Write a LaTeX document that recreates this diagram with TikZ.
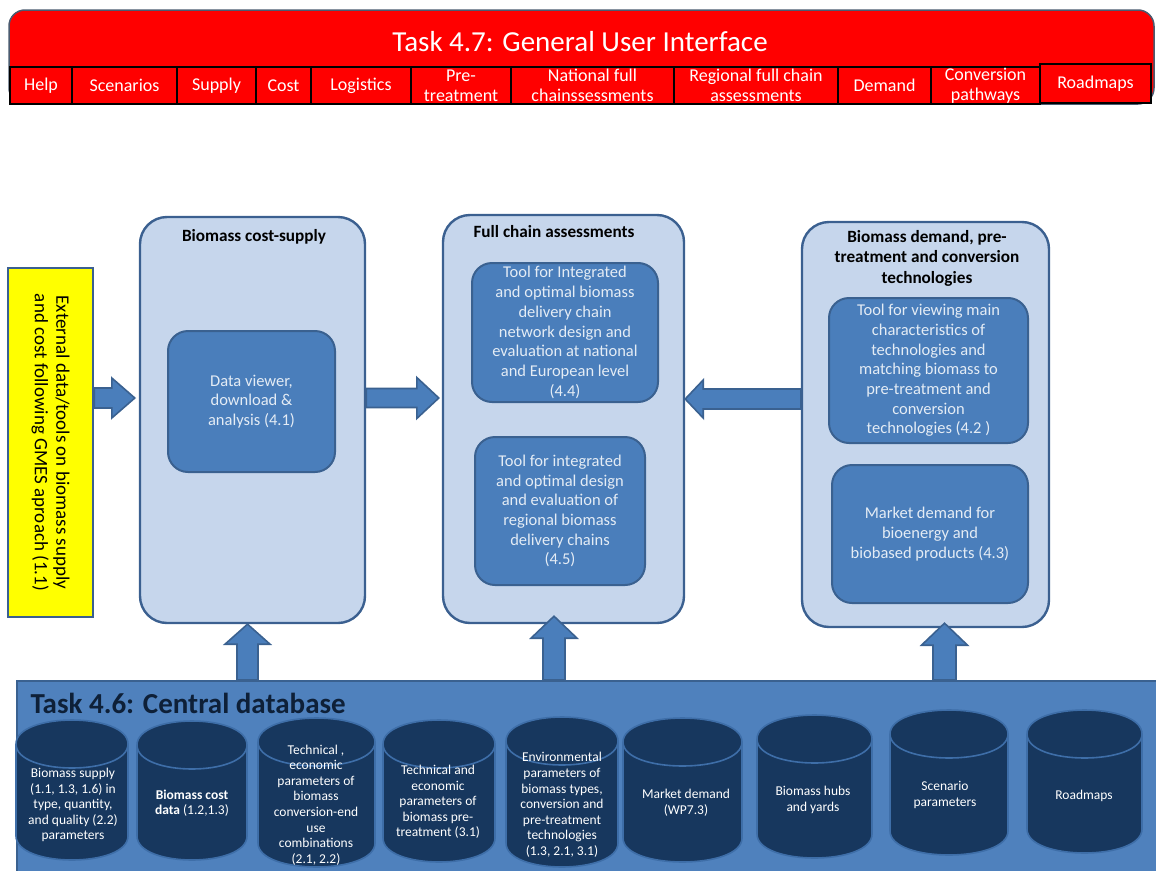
\documentclass[tikz,border=0pt]{standalone}
\usepackage{fontspec}
\setmainfont{Carlito}
\usetikzlibrary{calc}
\definecolor{panelc}{HTML}{C6D6EC}
\definecolor{bordc}{HTML}{3B6090}
\definecolor{innerc}{HTML}{4A7EBB}
\definecolor{innerb}{HTML}{3A6190}
\definecolor{innert}{HTML}{E4ECF5}
\definecolor{dbc}{HTML}{4F81BD}
\definecolor{dbtitle}{HTML}{0E2038}
\definecolor{cylc}{HTML}{17375E}
\definecolor{cylb}{HTML}{3E6EA8}
\definecolor{redc}{HTML}{FF0000}
\definecolor{barb}{HTML}{4B5B70}
\definecolor{yel}{HTML}{FFFF00}
\newcommand\fsz[2]{\fontsize{#1}{#2}\selectfont}
% box node from corners: style, name, x1, y1, x2, y2, text
\newcommand\cbox[7]{\node[#1, minimum width=#5-#3, minimum height=#6-#4] (#2)
  at ({(#3+#5)/2},{(#4+#6)/2}) {#7};}
% right-pointing block arrow: start, tip, shaft half, head half, head length
\newcommand\rarrow[5]{\draw[blk] let \p1=(#1), \p2=(#2) in
  (\x1,\y1+#3pt) -- (\x2-#5pt,\y1+#3pt) -- (\x2-#5pt,\y1+#4pt) -- (\x2,\y1)
  -- (\x2-#5pt,\y1-#4pt) -- (\x2-#5pt,\y1-#3pt) -- (\x1,\y1-#3pt) -- cycle;}
\newcommand\larrow[5]{\draw[blk] let \p1=(#1), \p2=(#2) in
  (\x1,\y1+#3pt) -- (\x2+#5pt,\y1+#3pt) -- (\x2+#5pt,\y1+#4pt) -- (\x2,\y1)
  -- (\x2+#5pt,\y1-#4pt) -- (\x2+#5pt,\y1-#3pt) -- (\x1,\y1-#3pt) -- cycle;}
\newcommand\uarrow[5]{\draw[blk] let \p1=(#1), \p2=(#2) in
  (\x1-#3pt,\y1) -- (\x1-#3pt,\y2-#5pt) -- (\x1-#4pt,\y2-#5pt) -- (\x1,\y2)
  -- (\x1+#4pt,\y2-#5pt) -- (\x1+#3pt,\y2-#5pt) -- (\x1+#3pt,\y1) -- cycle;}
% cylinder: left, right, top, bottom
\newcommand\dbcyl[4]{%
  \filldraw[cyl] (#1,#3+24) -- (#1,#4-24) .. controls (#1,#4+8) and (#2,#4+8) .. (#2,#4-24)
    -- (#2,#3+24) .. controls (#2,#3-8) and (#1,#3-8) .. (#1,#3+24) -- cycle;
  \draw[cylline] (#1,#3+24) .. controls (#1,#3+56) and (#2,#3+56) .. (#2,#3+24);}
\tikzset{
  titlebar/.style={draw=barb, fill=redc, line width=1.5pt, rounded corners=16pt, inner sep=0pt},
  tab/.style={draw=black, fill=redc, line width=2.2pt, text=white, align=center, inner sep=0pt,
    font=\fsz{18}{20}},
  panel/.style={draw=bordc, fill=panelc, line width=2.4pt, rounded corners=27pt, inner sep=0pt},
  ptitle/.style={font=\bfseries\fsz{17.2}{20.5}, text=black, align=center},
  inner/.style={draw=innerb, fill=innerc, line width=2pt, rounded corners=20pt, inner sep=0pt,
    text=innert, align=center, font=\fsz{16.5}{19.7}},
  blk/.style={draw=innerb, fill=innerc, line width=1.6pt},
  extbox/.style={draw=bordc, fill=yel, line width=2.4pt, inner sep=0pt},
  dbbox/.style={draw=innerb, fill=dbc, line width=2pt, inner sep=0pt},
  cyl/.style={fill=cylc, draw=cylb, line width=1.6pt},
  cylline/.style={draw=cylb, line width=1.6pt},
  cyltext/.style={text=white, align=center, font=\fsz{13.5}{15.6}},
}
\begin{document}
\begin{tikzpicture}[x=1pt,y=-1pt]
\useasboundingbox[fill=white] (0,0) rectangle (1156,870);
% ---------- top user interface bar ----------
\cbox{titlebar}{gui}{9}{10}{1154}{104}{}
\node[font=\fsz{29}{32}, text=white] (guit) at (580,42) {Task 4.7: General User Interface};
\cbox{tab}{t1}{10}{67}{72}{104}{Help}
\cbox{tab}{t2}{72}{67}{177}{104}{Scenarios}
\cbox{tab}{t3}{177}{67}{256}{104}{Supply}
\cbox{tab}{t4}{256}{67}{311}{104}{Cost}
\cbox{tab}{t5}{311}{67}{411}{104}{Logistics}
\cbox{tab}{t6}{411}{67}{511}{104}{Pre-\\treatment}
\cbox{tab}{t7}{511}{67}{674}{104}{National full\\chainssessments}
\cbox{tab}{t8}{674}{67}{838}{104}{Regional full chain\\assessments}
\cbox{tab}{t9}{838}{67}{931}{104}{Demand}
\cbox{tab}{t10}{931}{67}{1040}{104}{Conversion\\pathways}
\cbox{tab}{t11}{1040}{64}{1151}{103}{Roadmaps}
% ---------- external data ----------
\cbox{extbox}{ext}{8}{268}{93}{617}{}
\node[rotate=-90, align=center, font=\fsz{19}{21.5}, text=black] (extt) at (ext.center)
  {External data/tools on biomass supply\\and cost following GMES aproach (1.1)};
% ---------- panels ----------
\cbox{panel}{p1}{140}{217}{365}{623}{}
\cbox{panel}{p2}{443}{215}{684}{623}{}
\cbox{panel}{p3}{802}{222}{1049}{627}{}
\node[ptitle] (p1t) at (254,237) {Biomass cost-supply};
\node[ptitle] (p2t) at (554,232) {Full chain assessments};
\node[ptitle] (p3t) at (927,258) {Biomass demand, pre-\\treatment and conversion\\technologies};
\cbox{inner}{b41}{168}{331}{335}{472}{Data viewer,\\download \&\\analysis (4.1)}
\cbox{inner}{b44}{472}{263}{658}{402}{Tool for Integrated\\and optimal biomass\\delivery chain\\network design and\\evaluation at national\\and European level\\(4.4)}
\cbox{inner}{b45}{475}{437}{645}{585}{Tool for integrated\\and optimal design\\and evaluation of\\regional biomass\\delivery chains\\(4.5)}
\cbox{inner}{b42}{829}{298}{1028}{443}{Tool for viewing main\\characteristics of\\technologies and\\matching biomass to\\pre-treatment and\\conversion\\technologies (4.2 )}
\cbox{inner}{b43}{832}{465}{1028}{603}{Market demand for\\bioenergy and\\biobased products (4.3)}
% ---------- central database ----------
\cbox{dbbox}{db}{17}{681}{1175}{885}{}
\node[anchor=base west, font=\bfseries\fsz{29}{32}, text=dbtitle] (dbt) at (27,713) {Task 4.6: Central database};
\dbcyl{16}{128}{720}{860}
\dbcyl{137}{247}{721}{860}
\dbcyl{258}{375}{718}{867}
\dbcyl{383}{495}{720}{862}
\dbcyl{506}{618}{717}{867}
\dbcyl{623}{742}{718}{862}
\dbcyl{757}{872}{715}{858}
\dbcyl{890}{1008}{710}{855}
\dbcyl{1027}{1142}{710}{853}
\node[cyltext] (c1) at (73,805) {Biomass supply\\(1.1, 1.3, 1.6) in\\type, quantity,\\and quality (2.2)\\parameters};
\node[cyltext] (c2) at (192,803) {\textbf{Biomass cost}\\\textbf{data} (1.2,1.3)};
\node[cyltext] (c3) at (316,805) {Technical ,\\economic\\parameters of\\biomass\\conversion-end\\use\\combinations\\(2.1, 2.2)};
\node[cyltext] (c4) at (438,802) {Technical and\\economic\\parameters of\\biomass pre-\\treatment (3.1)};
\node[cyltext] (c5) at (562,805) {Environmental\\parameters of\\biomass types,\\conversion and\\pre-treatment\\technologies\\(1.3, 2.1, 3.1)};
\node[cyltext] (c6) at (686,803) {Market demand\\(WP7.3)};
\node[cyltext] (c7) at (813,800) {Biomass hubs\\and yards};
\node[cyltext] (c8) at (945,795) {Scenario\\parameters};
\node[cyltext] (c9) at (1084,796) {Roadmaps};
% ---------- block arrows ----------
\coordinate (hy) at (0,398);
\coordinate (hy3) at (0,399);
\coordinate (ux1) at (247.5,0);
\coordinate (ux2) at (554,0);
\coordinate (ux3) at (944.5,0);
\rarrow{ext.east |- hy}{$(p1.west |- hy)+(-4,0)$}{10}{20}{23}
\rarrow{p1.east |- hy}{$(p2.west |- hy)+(-3,0)$}{9.5}{20.5}{22}
\larrow{p3.west |- hy3}{p2.east |- hy3}{10}{19}{18}
\uarrow{db.north -| ux1}{p1.south -| ux1}{10.5}{22.5}{20}
\uarrow{db.north -| ux2}{$(p2.south -| ux2)+(0,-8)$}{11}{23}{22}
\uarrow{db.north -| ux3}{$(p3.south -| ux3)+(0,-5)$}{11.5}{23}{22}
\end{tikzpicture}
\end{document}
